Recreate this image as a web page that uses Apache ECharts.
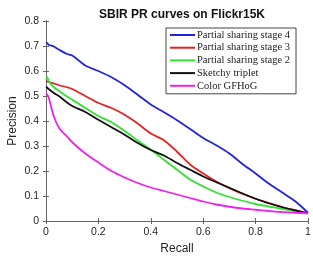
<!DOCTYPE html>
<html>
<head>
<meta charset="utf-8">
<script src="https://cdn.jsdelivr.net/npm/echarts@6/dist/echarts.min.js"></script>
<style>
  html, body { margin: 0; padding: 0; background: #fff; }
  #chart { width: 313px; height: 257px; }
</style>
</head>
<body>
<div id="chart"></div>
<script>
// recall grid shared by every curve
const recall = [0, 0.005, 0.01, 0.03, 0.05, 0.08, 0.1, 0.15, 0.2, 0.25, 0.3, 0.35, 0.4,
  0.45, 0.5, 0.55, 0.6, 0.65, 0.7, 0.75, 0.8, 0.85, 0.9, 0.95, 1];

// precision values
const stage4 = [0.713, 0.712, 0.705, 0.698, 0.685, 0.668, 0.662, 0.622, 0.600, 0.575, 0.543, 0.505, 0.466,
  0.435, 0.403, 0.368, 0.332, 0.303, 0.270, 0.228, 0.190, 0.150, 0.115, 0.080, 0.033];
const stage3 = [0.560, 0.558, 0.556, 0.550, 0.543, 0.535, 0.528, 0.500, 0.472, 0.452, 0.425, 0.390, 0.350,
  0.323, 0.277, 0.226, 0.190, 0.158, 0.131, 0.109, 0.089, 0.072, 0.056, 0.043, 0.031];
const stage2 = [0.565, 0.575, 0.560, 0.535, 0.520, 0.498, 0.485, 0.452, 0.420, 0.395, 0.360, 0.322, 0.285,
  0.245, 0.205, 0.166, 0.138, 0.114, 0.096, 0.081, 0.068, 0.058, 0.049, 0.040, 0.031];
const sketchy = [0.537, 0.533, 0.528, 0.512, 0.499, 0.474, 0.460, 0.436, 0.405, 0.375, 0.345, 0.312, 0.284,
  0.262, 0.232, 0.205, 0.178, 0.155, 0.133, 0.110, 0.089, 0.071, 0.056, 0.043, 0.031];
const gfhog = [0.512, 0.505, 0.495, 0.418, 0.372, 0.338, 0.315, 0.270, 0.234, 0.200, 0.174, 0.152, 0.134,
  0.120, 0.106, 0.092, 0.078, 0.066, 0.057, 0.050, 0.045, 0.040, 0.036, 0.033, 0.031];

const curves = [
  { name: "Partial sharing stage 4", color: "#2323dc", data: stage4 },
  { name: "Partial sharing stage 3", color: "#e62222", data: stage3 },
  { name: "Partial sharing stage 2", color: "#33e033", data: stage2 },
  { name: "Sketchy triplet", color: "#111111", data: sketchy },
  { name: "Color GFHoG", color: "#ee22ee", data: gfhog },
];

const axisGray = "#666";
const labelFont = { color: "#262626", fontSize: 10.5, fontFamily: "Liberation Sans" };

const chart = echarts.init(document.getElementById("chart"));

const option = {
  animation: false,
  title: {
    text: "SBIR PR curves on Flickr15K",
    left: 177,
    textAlign: "center",
    top: 4,
    textStyle: { fontSize: 12, fontWeight: "bold", fontFamily: "Liberation Sans", color: "#111" },
  },
  legend: {
    orient: "vertical",
    left: 166,
    top: 28,
    padding: [1, 6, 2, 4],
    itemGap: 0.7,
    itemWidth: 25,
    itemHeight: 2,
    icon: "rect",
    borderColor: "#444",
    borderWidth: 1,
    backgroundColor: "#fff",
    textStyle: { fontFamily: "Liberation Serif", fontSize: 10.5, color: "#222", lineHeight: 12, padding: [0, 0, 0, -3] },
    data: curves.map((c) => c.name),
  },
  grid: { left: 46, right: 5, top: 21, bottom: 36, outerBoundsMode: "none", containLabel: false },
  xAxis: [
    {
      type: "value",
      min: 0,
      max: 1,
      interval: 0.2,
      name: "Recall",
      nameLocation: "middle",
      nameGap: 20,
      nameTextStyle: { fontSize: 12, fontFamily: "Liberation Sans", color: "#262626" },
      axisLine: { lineStyle: { color: axisGray } },
      axisTick: { inside: true, length: 3, lineStyle: { color: axisGray } },
      axisLabel: { ...labelFont, margin: 6, formatter: (v) => String(+v.toFixed(1)) },
      splitLine: { show: false },
    },
    {
      type: "value",
      position: "top",
      min: 0,
      max: 1,
      interval: 0.2,
      axisLine: { lineStyle: { color: axisGray } },
      axisTick: { inside: true, length: 3, lineStyle: { color: axisGray } },
      axisLabel: { show: false },
      splitLine: { show: false },
    },
  ],
  yAxis: [
    {
      type: "value",
      min: 0,
      max: 0.8,
      interval: 0.1,
      name: "Precision",
      nameLocation: "middle",
      nameGap: 27,
      nameMoveOverlap: false,
      nameTextStyle: { fontSize: 12, fontFamily: "Liberation Sans", color: "#262626" },
      axisLine: { show: true, lineStyle: { color: axisGray } },
      axisTick: { show: true, inside: true, length: 3, lineStyle: { color: axisGray } },
      axisLabel: { ...labelFont, margin: 7, formatter: (v) => String(+v.toFixed(1)) },
      splitLine: { show: false },
    },
    {
      type: "value",
      position: "right",
      min: 0,
      max: 0.8,
      interval: 0.1,
      axisLine: { show: true, lineStyle: { color: axisGray } },
      axisTick: { show: true, inside: true, length: 3, lineStyle: { color: axisGray } },
      axisLabel: { show: false },
      splitLine: { show: false },
    },
  ],
  series: curves.map((c) => ({
    name: c.name,
    type: "line",
    showSymbol: false,
    smooth: 0.3,
    color: c.color,
    lineStyle: { color: c.color, width: 1.8 },
    data: recall.map((r, i) => [r, c.data[i]]),
  })),
};

chart.setOption(option);
</script>
</body>
</html>
